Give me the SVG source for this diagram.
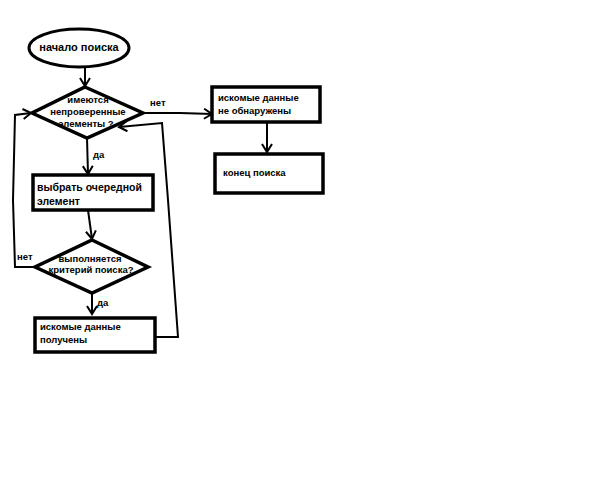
<svg xmlns="http://www.w3.org/2000/svg" width="600" height="480" viewBox="0 0 600 480">
<style>
.shape{fill:#fff;stroke:#000;stroke-width:3.5}
.ell{fill:#fff;stroke:#000;stroke-width:3}
.line{fill:none;stroke:#000;stroke-width:2}
text{font-family:"Liberation Sans",Arial,sans-serif;font-weight:bold;font-size:9.5px;fill:#000}
.big{font-size:10.5px}
.mid{font-size:11px}
</style>
<defs>
<marker id="arr" markerWidth="12" markerHeight="12" refX="10" refY="6" orient="auto" markerUnits="userSpaceOnUse">
<polyline points="2,1 10,6 2,11" fill="none" stroke="#000" stroke-width="2"/>
</marker>
</defs>
<rect width="600" height="480" fill="#fff"/>
<g id="connectors">
<line class="line" x1="85" y1="67" x2="85" y2="86" marker-end="url(#arr)"/>
<polyline class="line" points="143,113 180,113 212,114" marker-end="url(#arr)"/>
<line class="line" x1="267" y1="122" x2="267" y2="152" marker-end="url(#arr)"/>
<line class="line" x1="87" y1="138" x2="88" y2="174" marker-end="url(#arr)"/>
<line class="line" x1="88" y1="210" x2="92" y2="239" marker-end="url(#arr)"/>
<line class="line" x1="92" y1="293" x2="92" y2="314" marker-end="url(#arr)"/>
<polyline class="line" points="36,267 15,267 13,200 15,115 31,113" marker-end="url(#arr)"/>
<polyline class="line" points="155,337 178,337 168,200 162,123 119,127" marker-end="url(#arr)"/>
</g>
<g id="start">
<ellipse class="ell" cx="79" cy="48" rx="50" ry="19"/>
<text x="79" y="51" text-anchor="middle" class="mid">начало поиска</text>
</g>
<g id="decision1">
<polygon class="shape" points="85,87 143,113 87,138 32,113"/>
<text x="88" y="103" text-anchor="middle">имеются</text>
<text x="88" y="115" text-anchor="middle">непроверенные</text>
<text x="86" y="127" text-anchor="middle">элементы ?</text>
</g>
<g id="notfound">
<rect class="shape" x="212" y="87" width="108" height="35"/>
<text x="218" y="101">искомые данные</text>
<text x="218" y="114">не обнаружены</text>
</g>
<g id="end">
<rect class="shape" x="215" y="154" width="108" height="39"/>
<text x="223" y="176">конец поиска</text>
</g>
<g id="select">
<rect class="shape" x="33" y="175" width="120" height="35"/>
<text x="37" y="191" class="big">выбрать очередной</text>
<text x="37" y="205" class="big">элемент</text>
</g>
<g id="decision2">
<polygon class="shape" points="92,240 148,267 92,293 35,267"/>
<text x="90" y="262" text-anchor="middle">выполняется</text>
<text x="91" y="273" text-anchor="middle">критерий поиска?</text>
</g>
<g id="found">
<rect class="shape" x="35" y="318" width="120" height="34"/>
<text x="40" y="330">искомые данные</text>
<text x="40" y="343">получены</text>
</g>
<g id="labels">
<text x="150" y="106">нет</text>
<text x="93" y="158">да</text>
<text x="17" y="260">нет</text>
<text x="97" y="306">да</text>
</g>
</svg>
